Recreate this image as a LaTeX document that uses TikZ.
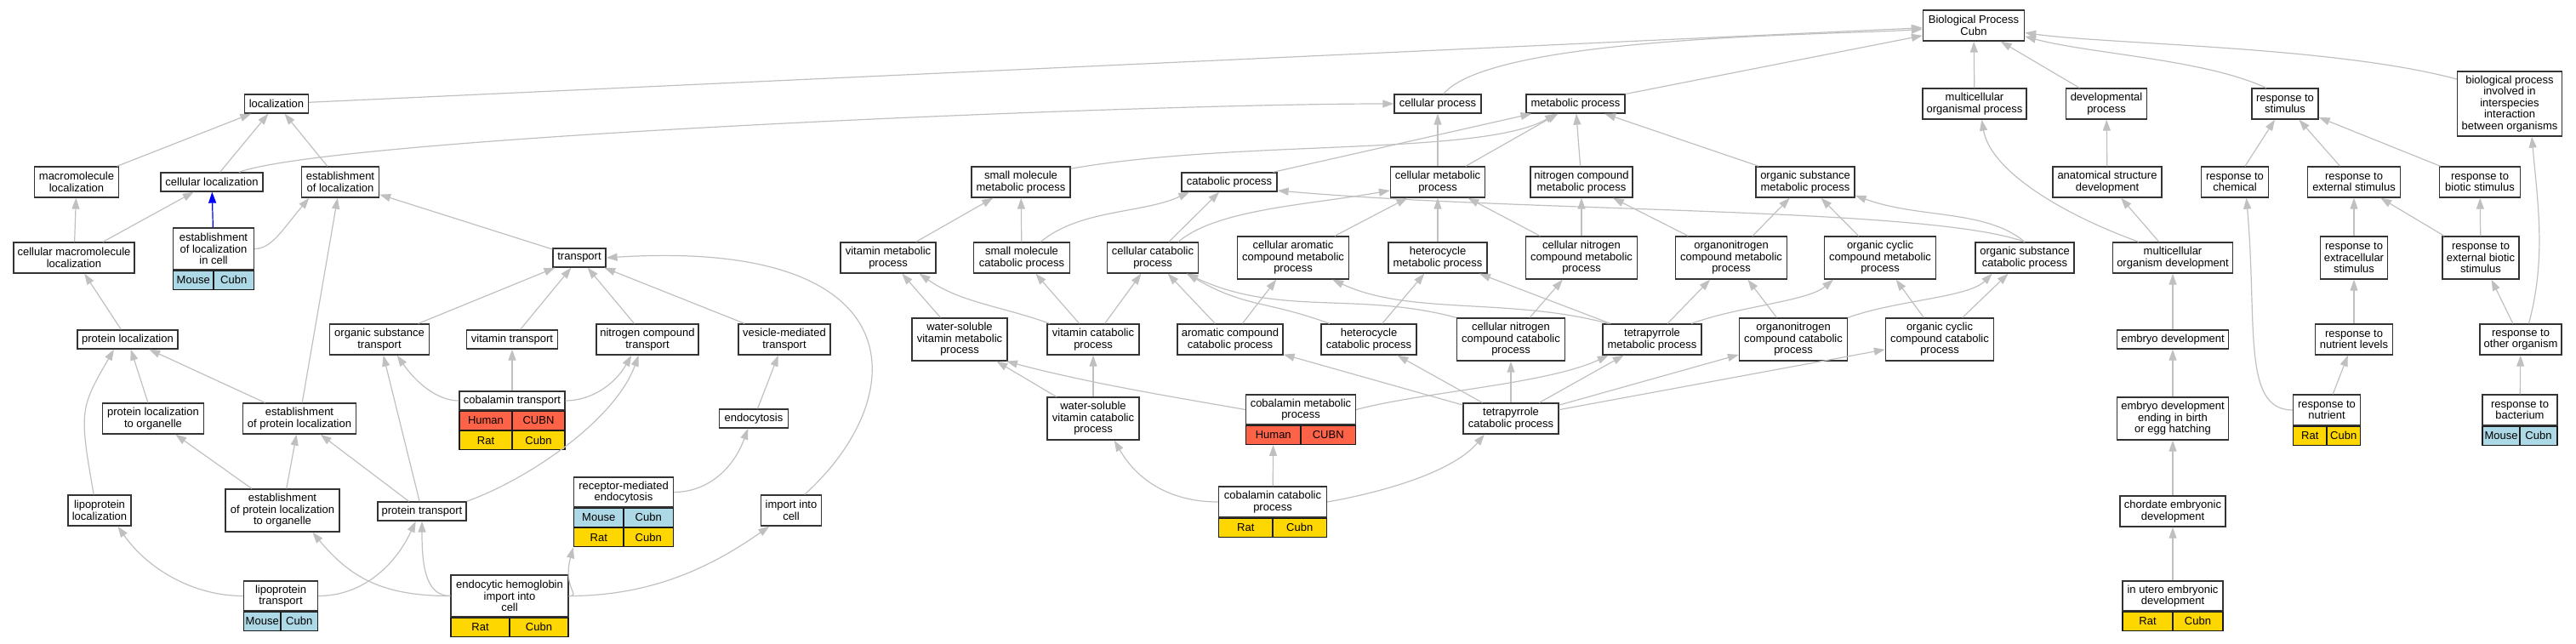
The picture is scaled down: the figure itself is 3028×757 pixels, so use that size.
\documentclass[tikz,border=0pt]{standalone}
\usepackage{fontspec}
\setmainfont{Liberation Sans}
\usetikzlibrary{arrows.meta}

\definecolor{mouse}{HTML}{ADD8E6}
\definecolor{rat}{HTML}{FFD700}
\definecolor{human}{HTML}{FF6347}
\definecolor{edgegray}{HTML}{C0C0C0}

\tikzset{
  term/.style={draw=black!80, line width=1.3pt, fill=white, align=center,
               inner sep=1pt, minimum height=22, font=\fontsize{13}{13.5}\selectfont},
  gene/.style={term, draw=black!90},
  isa/.style={color=edgegray, line width=1.2pt, -{Triangle[length=13pt,width=9pt]}},
}

\begin{document}
\begin{tikzpicture}[x=1pt, y=1pt]
  \useasboundingbox (0,0) rectangle (3028,-757);

  % root
  \node[term, minimum width=119, minimum height=36] (bp) at (2320,-30) {Biological Process\\Cubn};

  % rank 1
  \node[term, minimum width=75]  (loc)      at (325,-122)  {localization};
  \node[term, minimum width=102] (cellproc) at (1690,-122) {cellular process};
  \node[term, minimum width=116] (metproc)  at (1852,-122) {metabolic process};
  \node[term, minimum width=122, minimum height=36] (mcorg)    at (2321,-122) {multicellular\\organismal process};
  \node[term, minimum width=95,  minimum height=36] (devproc)  at (2476,-122) {developmental\\process};
  \node[term, minimum width=78,  minimum height=36] (respstim) at (2686,-122) {response to\\stimulus};
  \node[term, minimum width=123, minimum height=76] (interorg) at (2950,-122) {biological process\\involved in\\interspecies\\interaction\\between organisms};

  % rank 2
  \node[term, minimum width=99,  minimum height=36] (mmloc)    at (90,-214)   {macromolecule\\localization};
  \node[term, minimum width=120] (cloc)     at (249,-214)  {cellular localization};
  \node[term, minimum width=91,  minimum height=36] (estloc)   at (400,-214)  {establishment\\of localization};
  \node[term, minimum width=116, minimum height=36] (smmet)    at (1200,-214) {small molecule\\metabolic process};
  \node[term, minimum width=112] (catab)    at (1445,-214) {catabolic process};
  \node[term, minimum width=111, minimum height=36] (cmet)     at (1690,-214) {cellular metabolic\\process};
  \node[term, minimum width=120, minimum height=36] (nmet)     at (1859,-214) {nitrogen compound\\metabolic process};
  \node[term, minimum width=116, minimum height=36] (osmet)    at (2122,-214) {organic substance\\metabolic process};
  \node[term, minimum width=128, minimum height=36] (asdev)    at (2477,-214) {anatomical structure\\development};
  \node[term, minimum width=79,  minimum height=36] (respchem) at (2627,-214) {response to\\chemical};
  \node[term, minimum width=109, minimum height=36] (respext)  at (2767,-214) {response to\\external stimulus};
  \node[term, minimum width=95,  minimum height=36] (respbio)  at (2915,-214) {response to\\biotic stimulus};

  % rank 3
  \node[term, minimum width=142, minimum height=36] (cmmloc)   at (87,-303)   {cellular macromolecule\\localization};
  \node[term, minimum width=95,  minimum height=49] (eloccell) at (251,-292.5) {establishment\\of localization\\in cell};
  \node[term, minimum width=62]  (transp)   at (681,-303)  {transport};
  \node[term, minimum width=112, minimum height=36] (vitmet)   at (1044,-303) {vitamin metabolic\\process};
  \node[term, minimum width=113, minimum height=36] (smcat)    at (1201,-303) {small molecule\\catabolic process};
  \node[term, minimum width=107, minimum height=36] (ccat)     at (1355,-303) {cellular catabolic\\process};
  \node[term, minimum width=131, minimum height=50] (camet)    at (1520,-303) {cellular aromatic\\compound metabolic\\process};
  \node[term, minimum width=116, minimum height=36] (hmet)     at (1690,-303) {heterocycle\\metabolic process};
  \node[term, minimum width=131, minimum height=50] (cnmet)    at (1859,-303) {cellular nitrogen\\compound metabolic\\process};
  \node[term, minimum width=131, minimum height=50] (onmet)    at (2035,-303) {organonitrogen\\compound metabolic\\process};
  \node[term, minimum width=131, minimum height=50] (ocmet)    at (2210,-303) {organic cyclic\\compound metabolic\\process};
  \node[term, minimum width=116, minimum height=36] (oscat)    at (2380,-303) {organic substance\\catabolic process};
  \node[term, minimum width=141, minimum height=36] (mcdev)    at (2554,-303) {multicellular\\organism development};
  \node[term, minimum width=79,  minimum height=50] (respextra)  at (2767,-303) {response to\\extracellular\\stimulus};
  \node[term, minimum width=90,  minimum height=50] (respextbio) at (2916,-303) {response to\\external biotic\\stimulus};

  % rank 4
  \node[term, minimum width=118] (protloc)   at (150,-399)  {protein localization};
  \node[term, minimum width=117, minimum height=36] (ostransp)  at (446,-399)  {organic substance\\transport};
  \node[term, minimum width=107] (vittransp) at (602,-399)  {vitamin transport};
  \node[term, minimum width=120, minimum height=36] (ntransp)   at (761,-399)  {nitrogen compound\\transport};
  \node[term, minimum width=108, minimum height=36] (vestransp) at (922,-399)  {vesicle-mediated\\transport};
  \node[term, minimum width=112, minimum height=50] (wsvmet)    at (1128,-399) {water-soluble\\vitamin metabolic\\process};
  \node[term, minimum width=108, minimum height=36] (vitcat)    at (1285,-399) {vitamin catabolic\\process};
  \node[term, minimum width=124, minimum height=36] (arcat)     at (1446,-399) {aromatic compound\\catabolic process};
  \node[term, minimum width=112, minimum height=36] (hcat)      at (1609,-399) {heterocycle\\catabolic process};
  \node[term, minimum width=127, minimum height=50] (cncat)     at (1776,-399) {cellular nitrogen\\compound catabolic\\process};
  \node[term, minimum width=116, minimum height=36] (tpmet)     at (1942,-399) {tetrapyrrole\\metabolic process};
  \node[term, minimum width=127, minimum height=50] (oncat)     at (2108,-399) {organonitrogen\\compound catabolic\\process};
  \node[term, minimum width=127, minimum height=50] (occat)     at (2280,-399) {organic cyclic\\compound catabolic\\process};
  \node[term, minimum width=131] (embdev)    at (2554,-399) {embryo development};
  \node[term, minimum width=91,  minimum height=36] (respnutlev) at (2767,-399) {response to\\nutrient levels};
  \node[term, minimum width=96,  minimum height=36] (respother)  at (2963,-399) {response to\\other organism};

  % rank 5
  \node[term, minimum width=119, minimum height=36] (ploctoorg) at (180,-492)  {protein localization\\to organelle};
  \node[term, minimum width=133, minimum height=36] (estploc)   at (352,-492)  {establishment\\of protein localization};
  \node[term, minimum width=124] (cbltransp) at (602,-471)  {cobalamin transport};
  \node[term, minimum width=81]  (endocyt)   at (886,-492)  {endocytosis};
  \node[term, minimum width=108, minimum height=50] (wsvcat)    at (1285,-492) {water-soluble\\vitamin catabolic\\process};
  \node[term, minimum width=129, minimum height=35] (cblmet)    at (1529,-481.5) {cobalamin metabolic\\process};
  \node[term, minimum width=112, minimum height=36] (tpcat)     at (1776,-492) {tetrapyrrole\\catabolic process};
  \node[term, minimum width=131, minimum height=50] (embbirth)  at (2554,-492) {embryo development\\ending in birth\\or egg hatching};
  \node[term, minimum width=79,  minimum height=36] (respnut)   at (2735,-482) {response to\\nutrient};
  \node[term, minimum width=88,  minimum height=36] (respbact)  at (2962,-482) {response to\\bacterium};

  % rank 6
  \node[term, minimum width=74,  minimum height=36] (lploc)        at (117,-600)  {lipoprotein\\localization};
  \node[term, minimum width=134, minimum height=50] (estploctoorg) at (332,-600)  {establishment\\of protein localization\\to organelle};
  \node[term, minimum width=104] (prottransp)   at (496,-601)  {protein transport};
  \node[term, minimum width=117, minimum height=35] (rmendo)       at (733,-578.5) {receptor-mediated\\endocytosis};
  \node[term, minimum width=71,  minimum height=36] (importcell)   at (930,-600)  {import into\\cell};
  \node[term, minimum width=127, minimum height=36] (cblcat)       at (1496,-590) {cobalamin catabolic\\process};
  \node[term, minimum width=124, minimum height=36] (chordev)      at (2554,-601) {chordate embryonic\\development};

  % rank 7
  \node[term, minimum width=87,  minimum height=35] (lptransp) at (330,-700.5)  {lipoprotein\\transport};
  \node[term, minimum width=138, minimum height=49] (ehemo)    at (599,-700.5)  {endocytic hemoglobin\\import into\\cell};
  \node[term, minimum width=118, minimum height=35] (inutero)  at (2554,-700.5) {in utero embryonic\\development};

  % gene rows
  \node[gene, fill=mouse, minimum width=47.5, anchor=north west] (eloccell-s) at (eloccell.south west) {Mouse};
  \node[gene, fill=mouse, minimum width=47.5, anchor=north east] (eloccell-g) at (eloccell.south east) {Cubn};
  \node[gene, fill=human, minimum width=62, anchor=north west] (cbltransp-s) at (cbltransp.south west) {Human};
  \node[gene, fill=human, minimum width=62, anchor=north east] (cbltransp-g) at (cbltransp.south east) {CUBN};
  \node[gene, fill=rat, minimum width=62, anchor=north west] (cbltransp-s2) at (cbltransp-s.south west) {Rat};
  \node[gene, fill=rat, minimum width=62, anchor=north east] (cbltransp-g2) at (cbltransp-g.south east) {Cubn};
  \node[gene, fill=human, minimum width=64.5, anchor=north west] (cblmet-s) at (cblmet.south west) {Human};
  \node[gene, fill=human, minimum width=64.5, anchor=north east] (cblmet-g) at (cblmet.south east) {CUBN};
  \node[gene, fill=rat, minimum width=39.5, anchor=north west] (respnut-s) at (respnut.south west) {Rat};
  \node[gene, fill=rat, minimum width=39.5, anchor=north east] (respnut-g) at (respnut.south east) {Cubn};
  \node[gene, fill=mouse, minimum width=44, anchor=north west] (respbact-s) at (respbact.south west) {Mouse};
  \node[gene, fill=mouse, minimum width=44, anchor=north east] (respbact-g) at (respbact.south east) {Cubn};
  \node[gene, fill=mouse, minimum width=58.5, anchor=north west] (rmendo-s) at (rmendo.south west) {Mouse};
  \node[gene, fill=mouse, minimum width=58.5, anchor=north east] (rmendo-g) at (rmendo.south east) {Cubn};
  \node[gene, fill=rat, minimum width=58.5, anchor=north west] (rmendo-s2) at (rmendo-s.south west) {Rat};
  \node[gene, fill=rat, minimum width=58.5, anchor=north east] (rmendo-g2) at (rmendo-g.south east) {Cubn};
  \node[gene, fill=rat, minimum width=63.5, anchor=north west] (cblcat-s) at (cblcat.south west) {Rat};
  \node[gene, fill=rat, minimum width=63.5, anchor=north east] (cblcat-g) at (cblcat.south east) {Cubn};
  \node[gene, fill=mouse, minimum width=43.5, anchor=north west] (lptransp-s) at (lptransp.south west) {Mouse};
  \node[gene, fill=mouse, minimum width=43.5, anchor=north east] (lptransp-g) at (lptransp.south east) {Cubn};
  \node[gene, fill=rat, minimum width=69, anchor=north west] (ehemo-s) at (ehemo.south west) {Rat};
  \node[gene, fill=rat, minimum width=69, anchor=north east] (ehemo-g) at (ehemo.south east) {Cubn};
  \node[gene, fill=rat, minimum width=59, anchor=north west] (inutero-s) at (inutero.south west) {Rat};
  \node[gene, fill=rat, minimum width=59, anchor=north east] (inutero-g) at (inutero.south east) {Cubn};

  % edges into the root
  \path[isa] (loc)     edge (bp)
             (metproc) edge (bp)
             (mcorg)   edge (bp)
             (devproc) edge (bp);
  \draw[isa] (cellproc.60) .. controls +(50:90) and +(184:100) .. (bp.184);
  \draw[isa] (respstim.140) .. controls +(155:80) and +(-15:80) .. (bp.348);
  \draw[isa] (interorg.155) .. controls +(165:150) and +(-8:100) .. (bp.352);

  % localization and transport
  \path[isa] (mmloc)  edge (loc)
             (cloc)   edge (loc)
             (estloc) edge (loc)
             (cmmloc) edge (mmloc)
             (cmmloc) edge (cloc)
             (transp)   edge (estloc)
             (protloc)  edge (cmmloc)
             (ostransp) edge (transp)
             (vittransp) edge (transp)
             (ntransp)   edge (transp)
             (vestransp) edge (transp)
             (ploctoorg) edge (protloc)
             (estploc)   edge (protloc)
             (estploc)   edge (estloc)
             (cbltransp) edge (vittransp)
             (estploctoorg) edge (ploctoorg)
             (estploctoorg) edge (estploc)
             (prottransp) edge (estploc)
             (prottransp) edge (ostransp)
             (endocyt) edge (vestransp);
  \draw[isa] (cloc.20) .. controls +(20:120) and +(180:300) .. (cellproc.west);
  \draw[isa] (eloccell.east) .. controls +(0:20) and +(-130:50) .. (estloc.207);
  \draw[isa] (lploc.110) .. controls +(100:100) and +(-120:80) .. (protloc.216);
  \draw[isa] (cbltransp.west) .. controls +(180:25) and +(-55:40) .. (ostransp.318);
  \draw[isa] (cbltransp.east) .. controls +(0:30) and +(-120:40) .. (ntransp.225);
  \draw[isa] (prottransp.north east) .. controls +(20:80) and +(-110:80) .. (ntransp.241);
  \draw[isa] (lptransp.west) .. controls +(180:60) and +(-55:60) .. (lploc.319);
  \draw[isa] (lptransp.east) .. controls +(0:50) and +(-115:60) .. (prottransp.238);
  \draw[isa] (ehemo.west) .. controls +(180:80) and +(-50:70) .. (estploctoorg.324);
  \draw[isa] (ehemo.west) .. controls +(180:30) and +(-90:50) .. (prottransp.south);
  \draw[isa] (ehemo.east) .. controls +(0:15) and +(-105:50) .. (rmendo-s2.south west);
  \draw[isa] (ehemo.east) .. controls +(0:100) and +(-145:80) .. (importcell.216);
  \draw[isa] (rmendo.east) .. controls +(0:40) and +(-110:50) .. (endocyt.240);
  \draw[isa] (importcell.50) .. controls +(42:170) and +(3.6:369) .. (transp.east);
  \draw[isa, color=blue] (eloccell) -- (cloc);

  % metabolic branch
  \path[isa] (catab) edge (metproc)
             (cmet)  edge (cellproc)
             (cmet)  edge (metproc)
             (nmet)  edge (metproc)
             (osmet) edge (metproc)
             (vitmet) edge (smmet)
             (smcat)  edge (smmet)
             (ccat)   edge (catab)
             (camet)  edge (cmet)
             (hmet)   edge (cmet)
             (cnmet)  edge (cmet)
             (cnmet)  edge (nmet)
             (onmet)  edge (nmet)
             (onmet)  edge (osmet)
             (ocmet)  edge (osmet)
             (wsvmet) edge (vitmet)
             (vitcat) edge (smcat)
             (vitcat) edge (ccat)
             (arcat)  edge (camet)
             (arcat)  edge (ccat)
             (hcat)   edge (hmet)
             (cncat)  edge (cnmet)
             (tpmet)  edge (hmet)
             (tpmet)  edge (onmet)
             (oncat)  edge (onmet)
             (occat)  edge (ocmet)
             (occat)  edge (oscat)
             (wsvcat) edge (wsvmet)
             (wsvcat) edge (vitcat)
             (tpcat)  edge (arcat)
             (tpcat)  edge (hcat)
             (tpcat)  edge (cncat)
             (tpcat)  edge (tpmet)
             (tpcat)  edge (oncat)
             (tpcat)  edge (occat)
             (cblcat) edge (cblmet-s);
  \draw[isa] (smmet.15) .. controls +(10:200) and +(-150:100) .. (metproc.207);
  \draw[isa] (smcat.40) .. controls +(40:60) and +(-155:60) .. (catab.194);
  \draw[isa] (ccat.32) .. controls +(40:60) and +(-170:100) .. (cmet.190);
  \draw[isa] (oscat.north) .. controls +(140:60) and +(-20:80) .. (osmet.345);
  \draw[isa] (oscat.north) .. controls +(160:120) and +(-5:300) .. (catab.350);
  \draw[isa] (vitcat.160) .. controls +(160:60) and +(-35:60) .. (vitmet.333);
  \draw[isa] (hcat.158) .. controls +(160:80) and +(-30:80) .. (ccat.335);
  \draw[isa] (cncat.north west) .. controls +(165:120) and +(-25:120) .. (ccat.335);
  \draw[isa] (tpmet.160) .. controls +(165:120) and +(-25:100) .. (camet.331);
  \draw[isa] (tpmet.22) .. controls +(20:60) and +(-140:40) .. (ocmet.205);
  \draw[isa] (oncat.north east) .. controls +(20:60) and +(-135:40) .. (oscat.206);
  \draw[isa] (cblmet.west) .. controls +(170:80) and +(-15:100) .. (wsvmet.335);
  \draw[isa] (cblmet.east) .. controls +(15:80) and +(-155:80) .. (tpmet.200);
  \draw[isa] (cblcat.west) .. controls +(180:50) and +(-60:60) .. (wsvcat.314);
  \draw[isa] (cblcat.east) .. controls +(10:60) and +(-130:60) .. (tpcat.211);

  % development and response
  \path[isa] (asdev)  edge (devproc)
             (respchem) edge (respstim)
             (respext)  edge (respstim)
             (respbio)  edge (respstim)
             (mcdev)  edge (asdev)
             (respextra)  edge (respext)
             (respextbio) edge (respext)
             (respextbio) edge (respbio)
             (embdev)   edge (mcdev)
             (embbirth) edge (embdev)
             (chordev)  edge (embbirth)
             (inutero)  edge (chordev)
             (respnutlev) edge (respextra)
             (respnut)  edge (respnutlev)
             (respother) edge (respextbio)
             (respbact)  edge (respother);
  \draw[isa] (mcdev.155) .. controls +(160:100) and +(-80:60) .. (mcorg.294);
  \draw[isa] (respnut.west) .. controls +(180:60) and +(-85:150) .. (respchem.306);
  \draw[isa] (respother.63) .. controls +(75:80) and +(-85:80) .. (interorg.304);
\end{tikzpicture}
\end{document}
